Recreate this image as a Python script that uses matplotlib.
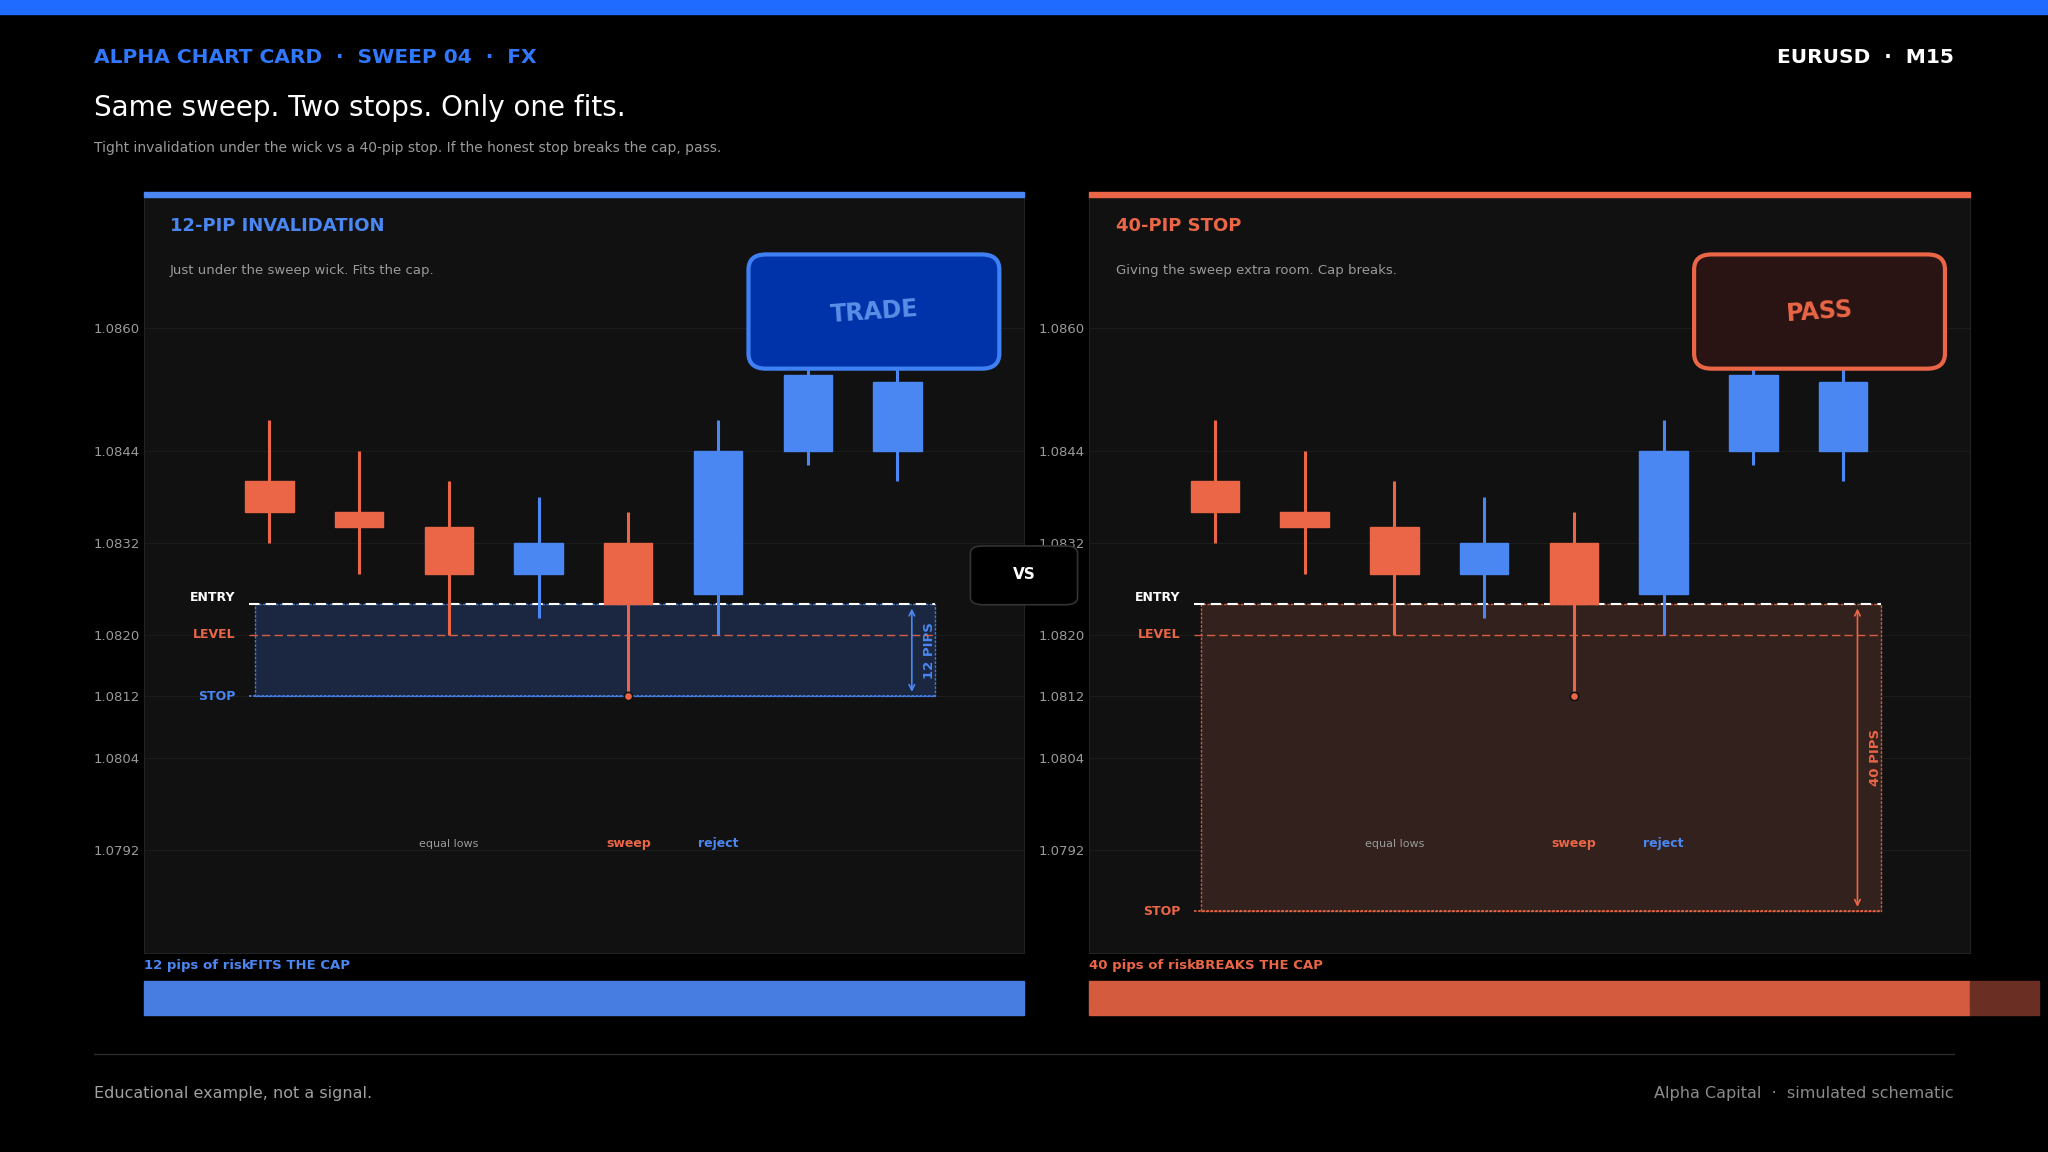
import matplotlib
matplotlib.use("Agg")
import matplotlib.pyplot as plt
from matplotlib.patches import Rectangle, FancyBboxPatch

# ---- data ----
opens  = [1.0840, 1.0836, 1.0834, 1.0828, 1.0832, 1.08253, 1.0844, 1.0844]
closes = [1.0836, 1.0834, 1.0828, 1.0832, 1.0824, 1.0844, 1.08539, 1.08529]
highs  = [1.0848, 1.0844, 1.0840, 1.0838, 1.0836, 1.0848, 1.08578, 1.08549]
lows   = [1.0832, 1.0828, 1.0820, 1.08222, 1.0812, 1.0820, 1.08421, 1.0840]
tick_vals = [1.0860, 1.0844, 1.0832, 1.0820, 1.0812, 1.0804, 1.0792]
entry = 1.0824
level = 1.0820
stops = [1.0812, 1.0784]
risk_pips = [12, 40]
notes = [("equal lows", 2), ("sweep", 4), ("reject", 5)]

BLUE = "#4a87f2"; ORANGE = "#ea6646"; GRAY = "#9a9a9a"
W, H = 1568, 882
fig = plt.figure(figsize=(20.48, 11.52), dpi=100, facecolor="black")
def fx(x): return x / W
def fy(y): return 1 - y / H

fig.add_artist(Rectangle((0, fy(11)), 1, 11 / H, transform=fig.transFigure, color="#1f6bff"))
fig.text(fx(72), fy(44), "ALPHA CHART CARD  ·  SWEEP 04  ·  FX", color="#2f78ff", fontsize=14.5, weight="bold", va="center")
fig.text(fx(1496), fy(44), "EURUSD  ·  M15", color="white", fontsize=14.5, weight="bold", va="center", ha="right")
fig.text(fx(72), fy(83), "Same sweep. Two stops. Only one fits.", color="white", fontsize=20, va="center")
fig.text(fx(72), fy(113), "Tight invalidation under the wick vs a 40-pip stop. If the honest stop breaks the cap, pass.",
         color="#9a9a9a", fontsize=10, va="center")

panels = [
    dict(x0=110, col=BLUE, title="12-PIP INVALIDATION", sub="Just under the sweep wick. Fits the cap.",
         badge="TRADE", bfill="#0033aa", bedge="#3f80f5", btxt="#5b8ee6", fill="#1d2b4a",
         risk="12 pips of risk", verdict="FITS THE CAP"),
    dict(x0=834, col=ORANGE, title="40-PIP STOP", sub="Giving the sweep extra room. Cap breaks.",
         badge="PASS", bfill="#2a1313", bedge="#ea6646", btxt="#ea6646", fill="#3a2420",
         risk="40 pips of risk", verdict="BREAKS THE CAP"),
]
pw, ph = 674, 583
for i, p in enumerate(panels):
    ax = fig.add_axes([fx(p["x0"]), fy(147 + ph), pw / W, ph / H])
    ax.set_facecolor("#111111")
    ax.set_xlim(-1.40, 8.41)
    ax.set_ylim(1.07785, 1.08777)
    for s in ax.spines.values():
        s.set_color("#222222")
    ax.set_xticks([])
    ax.set_yticks(tick_vals)
    ax.set_yticklabels([f"{v:.4f}" for v in tick_vals])
    ax.tick_params(axis="y", length=0, colors=GRAY, labelsize=9.5, pad=3)
    for v in tick_vals:
        ax.axhline(v, color="#1c1c1c", lw=0.8, zorder=0)
    fig.add_artist(Rectangle((fx(p["x0"]), fy(151)), pw / W, 4 / H, transform=fig.transFigure, color=p["col"]))
    ax.text(0.03, 0.955, p["title"], transform=ax.transAxes, color=p["col"], fontsize=13, weight="bold", va="center")
    ax.text(0.03, 0.897, p["sub"], transform=ax.transAxes, color=GRAY, fontsize=9.5, va="center")

    stop = stops[i]
    # zone
    ax.add_patch(Rectangle((-0.16, stop), 7.58, entry - stop, facecolor=p["fill"], alpha=0.85,
                           edgecolor=p["col"], lw=1, ls=(0, (2, 1)), zorder=1))
    ax.plot([-0.23, 7.42], [entry, entry], color="white", ls=(0, (5, 3)), lw=1.5, zorder=4)
    ax.plot([-0.23, 7.42], [level, level], color=ORANGE, ls=(0, (6, 3)), lw=1.0, alpha=0.9, zorder=4)
    ax.plot([-0.23, 7.42], [stop, stop], color=p["col"], ls=(0, (1.5, 1)), lw=1.2, zorder=4)
    ax.text(-0.38, entry, "ENTRY", color="white", fontsize=9, weight="bold", ha="right", va="bottom")
    ax.text(-0.38, level, "LEVEL", color=ORANGE, fontsize=9, weight="bold", ha="right", va="center")
    ax.text(-0.38, stop, "STOP", color=p["col"], fontsize=9, weight="bold", ha="right", va="center")
    ax.annotate("", xy=(7.16, stop + 0.00002), xytext=(7.16, entry - 0.00002),
                arrowprops=dict(arrowstyle="<->", color=p["col"], lw=1.2), zorder=5)
    ax.text(7.36, (entry + stop) / 2, f"{risk_pips[i]} PIPS", color=p["col"], fontsize=9.5, weight="bold",
            rotation=90, ha="center", va="center")

    # candles
    for k in range(len(opens)):
        c = BLUE if closes[k] >= opens[k] else ORANGE
        ax.plot([k, k], [lows[k], highs[k]], color=c, lw=2.2, zorder=6, solid_capstyle="butt")
        lo, hi = min(opens[k], closes[k]), max(opens[k], closes[k])
        ax.add_patch(Rectangle((k - 0.27, lo), 0.54, hi - lo, color=c, zorder=7))
    ax.plot([4], [lows[4]], "o", ms=6, mfc=ORANGE, mec="#111111", mew=1.2, zorder=8)
    for txt, k in notes:
        col = GRAY if txt == "equal lows" else (ORANGE if txt == "sweep" else BLUE)
        ax.text(k, 1.07928, txt, color=col, fontsize=9 if k != 2 else 8, weight="normal" if k == 2 else "bold",
                ha="center", va="center")

    # badge
    ax.add_patch(FancyBboxPatch((0.687, 0.768), 0.285, 0.15, transform=ax.transAxes,
                                boxstyle="round,pad=0,rounding_size=0.02", facecolor=p["bfill"],
                                edgecolor=p["bedge"], lw=3, zorder=9))
    ax.text(0.8295, 0.843, p["badge"], transform=ax.transAxes, color=p["btxt"], fontsize=17, weight="bold",
            ha="center", va="center", rotation=4, zorder=10)

    # risk bar
    fig.text(fx(p["x0"]), fy(739), p["risk"], color=p["col"], fontsize=9.5, weight="bold", va="center")
    fig.text(fx(p["x0"] + (81 if i == 0 else 81)), fy(739), p["verdict"], color=p["col"], fontsize=9.5,
             weight="bold", va="center")
    barc = "#477de0" if i == 0 else "#d55b3e"
    fig.add_artist(Rectangle((fx(p["x0"]), fy(777)), pw / W, 26 / H, transform=fig.transFigure, color=barc))
    if i == 1:
        fig.add_artist(Rectangle((fx(p["x0"] + pw), fy(777)), 53 / W, 26 / H, transform=fig.transFigure,
                                 color="#6a2e22"))

# VS box
fig.add_artist(FancyBboxPatch((fx(743), fy(463)), 82 / W, 45 / H, transform=fig.transFigure,
                              boxstyle="round,pad=0,rounding_size=0.006", facecolor="black",
                              edgecolor="#333333", lw=1.2, zorder=20))
fig.text(fx(784), fy(440), "VS", color="white", fontsize=11, weight="bold", ha="center", va="center", zorder=21)

fig.add_artist(plt.Line2D([fx(72), fx(1496)], [fy(807), fy(807)], transform=fig.transFigure, color="#2a2a2a", lw=1))
fig.text(fx(72), fy(837), "Educational example, not a signal.", color="#a0a0a0", fontsize=11.5, va="center")
fig.text(fx(1496), fy(837), "Alpha Capital  ·  simulated schematic", color="#8a8a8a", fontsize=11.5, va="center", ha="right")

fig.savefig("out.png", dpi=100, facecolor="black")
